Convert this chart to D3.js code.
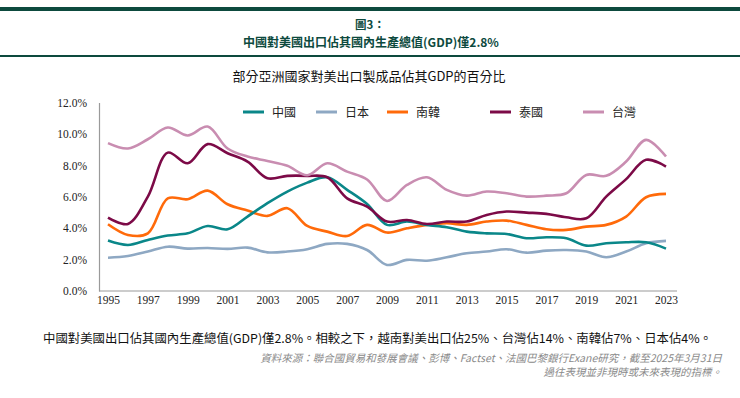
<!DOCTYPE html>
<html>
<head>
<meta charset="utf-8">
<script src="https://cdn.jsdelivr.net/npm/d3@7"></script>
<style>
body { margin: 0; background: #fff; }
.tick text { font-family: "Liberation Serif", "Times New Roman", serif !important; }
</style>
</head>
<body>
<script>
var width = 740;
var height = 398;

var years = d3.range(1995, 2024);
var tickYears = [1995, 1997, 1999, 2001, 2003, 2005, 2007, 2009, 2011, 2013, 2015, 2017, 2019, 2021, 2023];
var yTicks = [0, 2, 4, 6, 8, 10, 12];

var seriesNames = ['中國', '日本', '南韓', '泰國', '台灣'];
var seriesColors = ['#0a8789', '#8ea8c3', '#ff6a0a', '#7c0a47', '#c98db1'];

var china = [3.21, 2.93, 3.25, 3.53, 3.67, 4.14, 3.93, 4.74, 5.59, 6.33, 6.90, 7.24, 6.44, 5.54,
    4.21, 4.42, 4.21, 4.06, 3.78, 3.67, 3.63, 3.36, 3.42, 3.36, 2.89, 3.04, 3.10, 3.10, 2.70];
var japan = [2.12, 2.23, 2.51, 2.82, 2.70, 2.74, 2.68, 2.76, 2.46, 2.51, 2.66, 3.00, 3.00, 2.61,
    1.66, 1.98, 1.93, 2.15, 2.40, 2.51, 2.66, 2.44, 2.57, 2.61, 2.51, 2.15, 2.51, 3.04, 3.19];
var korea = [4.25, 3.57, 3.67, 5.90, 5.84, 6.39, 5.52, 5.12, 4.78, 5.27, 4.14, 3.78, 3.50, 4.21,
    3.72, 3.99, 4.21, 4.31, 4.21, 4.42, 4.48, 4.21, 3.93, 3.89, 4.10, 4.21, 4.74, 5.97, 6.18];
var thailand = [4.67, 4.27, 6.01, 8.81, 8.13, 9.35, 8.77, 8.24, 7.18, 7.33, 7.33, 7.24, 5.90, 5.37,
    4.42, 4.52, 4.27, 4.42, 4.42, 4.84, 5.06, 4.99, 4.91, 4.69, 4.63, 6.01, 7.12, 8.35, 7.92];
var taiwan = [9.41, 9.07, 9.66, 10.41, 9.90, 10.47, 9.07, 8.56, 8.28, 7.97, 7.37, 8.13, 7.60, 7.10,
    5.73, 6.75, 7.24, 6.44, 6.07, 6.33, 6.22, 6.01, 6.07, 6.22, 7.39, 7.33, 8.24, 9.62, 8.56];

var seriesValues = [china, japan, korea, thailand, taiwan];

var green = '#0d4a3e';
var cjk = '"Noto Sans CJK TC", "Noto Sans", sans-serif';

var svg = d3.select('body').append('svg')
    .attr('width', width)
    .attr('height', height);

// header rules
svg.append('rect').attr('x', 0).attr('y', 7).attr('width', width).attr('height', 4).attr('fill', green);
svg.append('rect').attr('x', 0).attr('y', 55).attr('width', width).attr('height', 2).attr('fill', green);

svg.append('text')
    .attr('x', 370).attr('y', 29)
    .attr('text-anchor', 'middle')
    .style('font-family', cjk).style('font-size', '11.5px').style('font-weight', 'bold')
    .attr('fill', green)
    .text('圖3：');

svg.append('text')
    .attr('x', 371).attr('y', 47)
    .attr('text-anchor', 'middle')
    .style('font-family', cjk).style('font-size', '12px').style('font-weight', 'bold')
    .attr('fill', green)
    .text('中國對美國出口佔其國內生產總值(GDP)僅2.8%');

svg.append('text')
    .attr('x', 369).attr('y', 81)
    .attr('text-anchor', 'middle')
    .style('font-family', cjk).style('font-size', '13px')
    .attr('fill', '#111')
    .text('部分亞洲國家對美出口製成品佔其GDP的百分比');

var x = d3.scaleLinear()
    .domain([1995, 2023])
    .range([108, 666]);

var y = d3.scaleLinear()
    .domain([0, 12])
    .range([291, 102.5]);

// axes
var yAxis = svg.append('g')
    .attr('transform', 'translate(99,0)')
    .call(d3.axisLeft(y).tickValues(yTicks).tickSize(0).tickPadding(12)
        .tickFormat(function (d) { return d.toFixed(1) + '%'; }));
yAxis.select('.domain').attr('stroke', '#9a9a9a').attr('stroke-width', 1.2);
yAxis.selectAll('text')
    .style('font-size', '11.5px').attr('fill', '#222');

var xAxis = svg.append('g')
    .attr('transform', 'translate(0,291)')
    .call(d3.axisBottom(x).tickValues(tickYears).tickSize(0).tickPadding(5)
        .tickFormat(d3.format('d')));
xAxis.select('.domain').attr('d', 'M99,0H677').attr('stroke', '#9a9a9a').attr('stroke-width', 1.2);
xAxis.selectAll('text')
    .style('font-size', '11.5px').attr('fill', '#222');

var line = d3.line()
    .x(function (d, i) { return x(years[i]); })
    .y(function (d) { return y(d); })
    .curve(d3.curveCatmullRom.alpha(0.5));

// draw order: japan, korea, china, thailand, taiwan roughly as in reference
var order = [1, 2, 0, 3, 4];
svg.selectAll('.series')
    .data(order)
    .enter()
    .append('path')
    .attr('class', 'series')
    .attr('d', function (k) { return line(seriesValues[k]); })
    .attr('fill', 'none')
    .attr('stroke', function (k) { return seriesColors[k]; })
    .attr('stroke-width', 2.6)
    .attr('stroke-linejoin', 'round');

// legend
var legendX = [243, 316, 387, 490, 583];
var legend = svg.selectAll('.legend')
    .data(seriesNames)
    .enter()
    .append('g')
    .attr('class', 'legend')
    .attr('transform', function (d, i) { return 'translate(' + legendX[i] + ',112)'; });
legend.append('line')
    .attr('x1', 0).attr('x2', 21).attr('y1', 0).attr('y2', 0)
    .attr('stroke', function (d, i) { return seriesColors[i]; })
    .attr('stroke-width', 3);
legend.append('text')
    .attr('x', 29).attr('y', 4.5)
    .style('font-family', cjk).style('font-size', '12px')
    .attr('fill', '#222')
    .text(function (d) { return d; });

// footnote
svg.append('text')
    .attr('x', 43).attr('y', 343)
    .attr('textLength', 669).attr('lengthAdjust', 'spacingAndGlyphs')
    .style('font-family', cjk).style('font-size', '12px')
    .attr('fill', '#111')
    .text('中國對美國出口佔其國內生產總值(GDP)僅2.8%。相較之下，越南對美出口佔25%、台灣佔14%、南韓佔7%、日本佔4%。');

svg.append('text')
    .attr('x', 722).attr('y', 362)
    .attr('text-anchor', 'end')
    .style('font-family', cjk).style('font-size', '10.5px').style('font-style', 'italic')
    .attr('fill', '#8a8a8a')
    .text('資料來源：聯合國貿易和發展會議、彭博、Factset、法國巴黎銀行Exane研究，截至2025年3月31日');

svg.append('text')
    .attr('x', 722).attr('y', 376)
    .attr('text-anchor', 'end')
    .style('font-family', cjk).style('font-size', '10.5px').style('font-style', 'italic')
    .attr('fill', '#8a8a8a')
    .text('過往表現並非現時或未來表現的指標。');
</script>
</body>
</html>
